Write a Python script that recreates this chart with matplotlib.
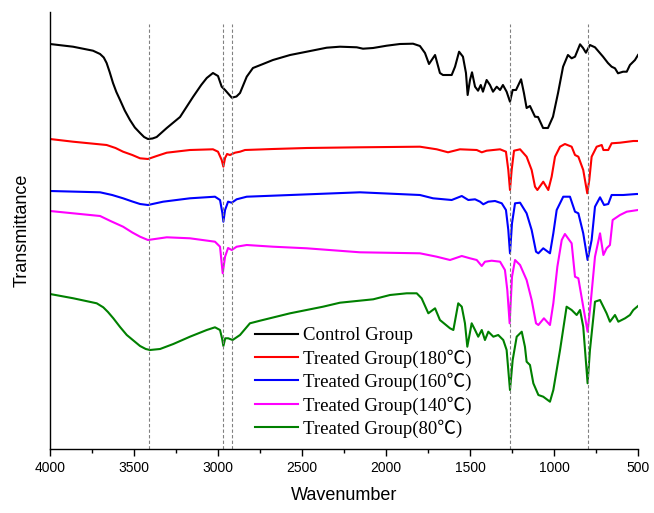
import matplotlib
matplotlib.use("Agg")
import matplotlib.pyplot as plt
from matplotlib.font_manager import FontProperties
from matplotlib.ticker import MultipleLocator

# spectra (wavenumber cm-1, transmittance a.u. with offsets)
w_control = [4000, 3863, 3744, 3702, 3680, 3663, 3645, 3625, 3605, 3583, 3555, 3524, 3495, 3464,
             3440, 3417, 3390, 3365, 3305, 3226, 3149, 3100,
             3067, 3030, 3000, 2978, 2958, 2918, 2890, 2869, 2829, 2792, 2732, 2673, 2571, 2472, 2353,
             2274, 2174, 2137, 2077, 1996, 1917, 1839, 1798, 1768, 1744, 1708, 1679, 1661, 1609,
             1589, 1565, 1542, 1524, 1514, 1500, 1488, 1470, 1452, 1436, 1423, 1401, 1381, 1363,
             1341, 1321, 1304, 1282, 1262, 1246, 1226, 1196, 1179, 1163, 1143, 1113, 1095, 1065,
             1036, 1006, 976, 946, 917, 895, 875, 845, 827, 810, 786, 756, 708, 679, 657, 637,
             619, 589, 567, 548, 518, 500]
t_control = [405, 402.3, 398.3, 395, 391.5, 386, 377, 366, 357, 349, 338.5, 329, 321.5, 316,
             312, 310, 310.5, 312, 321, 332, 352, 364,
             371, 376, 373, 362.3, 359, 351.3, 352.5, 356, 372.3, 381, 385, 389, 394, 397.3, 401.3,
             402.3, 401.7, 400.3, 401, 403.3, 405, 405.3, 403, 396, 385, 394, 376, 374, 374,
             382.3, 397.3, 392.3, 376, 354, 369, 376.7, 362.3, 358.3, 364, 357.3, 369, 364, 357.3,
             362.3, 359, 364, 357.3, 347.3, 359, 359, 369.7, 356, 341, 343, 332.3, 332, 321,
             321, 332.3, 356, 382.3, 394, 390.7, 392.3, 404.7, 401, 396.3, 404, 401.7, 392.3, 386, 382.3, 380.7,
             375.7, 377.3, 377.3, 384, 389, 394]

w_180 = [4000, 3863, 3663, 3610, 3565, 3510, 3464, 3417, 3365, 3305, 3167, 3030, 3000, 2978, 2968, 2958,
         2946, 2929, 2899, 2869, 2839, 2673, 2472, 2155, 1798, 1698, 1631, 1560, 1460, 1430,
         1401, 1321, 1286, 1272, 1262, 1252, 1238, 1202, 1163, 1133, 1113, 1099, 1064, 1034,
         1014, 994, 964, 935, 895, 875, 855, 826, 802, 790, 776, 746, 716, 706, 677, 657,
         607, 528, 500]
t_180 = [310, 307.3, 304, 301, 297.3, 294, 290.7, 290, 293, 296.3, 299, 299.7, 297.3, 289, 282.3, 291,
         295, 294, 296.3, 297.3, 299, 300, 301, 301.7, 302.3, 299.7, 296.7, 299.7, 299, 296.7,
         298.3, 299.7, 297.3, 279, 259, 279, 298.3, 299.7, 292.3, 279, 262.3, 259, 267.3, 259,
         272.3, 292.3, 302.3, 305, 302.3, 294, 292.3, 279, 255.7, 269, 292.3, 302.3, 304, 299, 299, 305.7,
         306.3, 308, 308]

w_160 = [4000, 3702, 3630, 3565, 3510, 3464, 3417, 3327, 3167, 3018, 2988, 2974, 2968, 2958, 2940, 2918,
         2889, 2829, 2155, 1798, 1720, 1609, 1549, 1510, 1470, 1440, 1421, 1391, 1351, 1311,
         1286, 1272, 1262, 1250, 1232, 1202, 1163, 1133, 1107, 1093, 1064, 1024, 1004, 984,
         945, 905, 875, 855, 826, 800, 776, 756, 726, 702, 677, 657, 588, 508, 500]
t_160 = [258, 256.7, 254, 250.7, 247.5, 245, 244, 247.3, 250.7, 252.3, 249, 236, 227.3, 239, 247.3, 246.3,
         249.7, 252.3, 256.7, 254, 250.7, 249, 253, 249, 249.7, 247.3, 244.7, 247.3, 248, 245.7,
         239, 219, 195.7, 225.7, 245.7, 246.3, 235.7, 219, 197.3, 195.7, 200.7, 195.7, 215.7, 239,
         252.3, 252.3, 237.3, 235.7, 215.7, 189, 209, 242.3, 251.7, 244, 245, 254, 254, 255, 255]

w_140 = [4000, 3702, 3640, 3565, 3510, 3464, 3417, 3305, 3167, 3018, 2988, 2972, 2958, 2940, 2918, 2889,
         2829, 2673, 2472, 2155, 1798, 1698, 1619, 1549, 1500, 1460, 1430, 1411, 1371, 1321,
         1292, 1278, 1264, 1250, 1232, 1202, 1163, 1133, 1107, 1093, 1060, 1024, 1004, 980,
         954, 935, 895, 875, 855, 826, 800, 782, 756, 726, 706, 687, 667, 651, 607, 567, 500]
t_140 = [238, 233, 228, 222.3, 216.5, 212.3, 209, 211.7, 210.7, 207.3, 202.3, 175.7, 192.3, 201, 199, 202.3,
         204, 202.3, 200.7, 196.7, 195.7, 192.3, 189, 193, 190.7, 189, 183, 187.3, 188.3, 187.3,
         179, 159, 125.7, 172.3, 189, 184, 169, 149, 125.7, 124, 130.7, 124, 145.7, 182.3,
         209, 215, 205.7, 172.3, 170.7, 142.3, 117.3, 145.7, 192.3, 215.7, 194, 200.7, 204, 229, 234, 237.3, 239]

w_80 = [4000, 3861, 3722, 3683, 3655, 3623, 3583, 3543, 3500, 3464, 3430, 3405, 3345, 3266, 3167, 3067, 3018, 2988,
        2976, 2968, 2957, 2939, 2913, 2869, 2810, 2750, 2571, 2375, 2274, 2076, 1976, 1877,
        1817, 1788, 1748, 1708, 1679, 1619, 1599, 1570, 1549, 1530, 1516, 1490, 1470, 1451,
        1430, 1411, 1391, 1361, 1332, 1302, 1282, 1262, 1246, 1222, 1192, 1173, 1163, 1143,
        1123, 1093, 1064, 1024, 1004, 964, 925, 895, 865, 845, 826, 800, 786, 756, 726, 687,
        667, 637, 617, 577, 548, 528, 500]
t_80 = [155, 150.7, 145.7, 141.7, 137, 130.7, 122, 114, 108, 103, 100, 99, 100, 105, 112.3, 119, 121.7, 119,
        110.7, 103, 110.7, 110.7, 109, 114, 125.7, 128.3, 135.7, 142.3, 146.3, 149.7, 154, 155.7,
        155.7, 150.7, 135.7, 140.7, 129, 120.7, 119, 145.7, 142.3, 125.7, 102.3, 125.7, 119, 112.3,
        119, 109, 117.3, 112.3, 114, 109, 99, 59, 89, 112.3, 117.3, 102.3, 87.3, 84,
        65.7, 54, 52.3, 47.3, 59, 99, 142.3, 139, 134, 139, 122.3, 65.7, 99, 147.3, 149, 135.7,
        127.3, 134, 127.3, 130.7, 134, 139, 143]

series = [
    ("Control Group", w_control, t_control, "black"),
    ("Treated Group(180\u2103)", w_180, t_180, "#ff0000"),
    ("Treated Group(160\u2103)", w_160, t_160, "#0000ff"),
    ("Treated Group(140\u2103)", w_140, t_140, "#ff00ff"),
    ("Treated Group(80\u2103)", w_80, t_80, "#008000"),
]

marker_peaks = [3410, 2970, 2915, 1262, 800]

fig = plt.figure(figsize=(6.54, 5.13), dpi=100)
ax = fig.add_axes([50 / 654, 1 - 449 / 513, 588 / 654, 437 / 513])

for name, w, t, c in series:
    ax.plot(w, t, color=c, lw=1.5, label=name, solid_joinstyle="round")

ax.vlines(marker_peaks, 0, 425, colors="gray", linestyles=(0, (3, 2)), lw=0.8)

ax.set_xlim(4000, 500)
ax.set_ylim(0, 437)
ax.xaxis.set_major_locator(MultipleLocator(500))
ax.xaxis.set_minor_locator(MultipleLocator(250))
ax.tick_params(axis="x", which="major", direction="out", length=5, width=1, labelsize=10, pad=4)
ax.tick_params(axis="x", which="minor", direction="out", length=3, width=1)
ax.set_yticks([])
ax.spines["top"].set_visible(False)
ax.spines["right"].set_visible(False)
ax.spines["left"].set_linewidth(1)
ax.spines["bottom"].set_linewidth(1)
for lab in ax.get_xticklabels():
    lab.set_family("Liberation Sans")

ax.set_xlabel("Wavenumber", fontsize=13, family="Liberation Sans", labelpad=8)
ax.set_ylabel("Transmittance", fontsize=13, family="Liberation Sans", labelpad=14)

legfont = FontProperties(family=["Liberation Serif", "Noto Sans CJK SC"], size=13.5)
ax.legend(loc="upper left", bbox_to_anchor=(255 / 654, 1 - 327 / 513),
          bbox_transform=fig.transFigure, frameon=False, prop=legfont,
          borderpad=0, borderaxespad=0, handlelength=2.3, handletextpad=0.25,
          labelspacing=0.27)

fig.savefig("out.png", dpi=100)
